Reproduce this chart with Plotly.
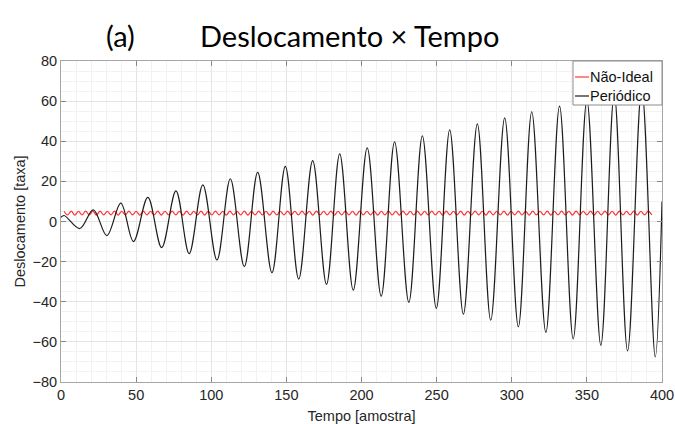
import numpy as np
import plotly.graph_objects as go

# Periodic response: extrema (sample index, displacement)
per_t = [0, 2, 12.5, 21.5, 30.5, 39.8, 48.2, 57.8, 67, 76.5, 85.3, 94.4, 103.8,
         112.7, 122, 130.9, 140.4, 149.3, 158.2, 167.5, 176.7, 185.5, 194.5,
         203.8, 213.1, 222, 231.5, 240.5, 249.8, 258.7, 267.8, 277.1, 286,
         295.3, 304.4, 313.3, 322.7, 331.8, 340.9, 350, 359.3, 368.2, 377.1,
         386.5, 395.5, 400]
per_y = [2, 3, -3.5, 5.8, -7, 9.2, -10, 12, -13, 15.3, -16, 18.3, -19.2,
         21.3, -22.5, 24.5, -25.5, 27.5, -28.7, 30.3, -31.3, 33.7, -34.2,
         36.7, -37.2, 39.7, -40.3, 42.7, -43.3, 45.7, -46.2, 48.7, -49.2,
         51.7, -52.5, 54.7, -55.3, 57.5, -58.5, 60.5, -61.7, 63.5, -64.5,
         66.5, -67.5, 10]

# Non-ideal response: small ripple extrema, one every 2.4 samples from t = 2
ni_start, ni_step = 2.0, 2.4
ni_y = [
    5.1, 3.3, 5.2, 3.2, 5.1, 3.3, 5.2, 3.3, 5.1, 3.2, 5.2, 3.3, 5.1, 3.3,
    5.2, 3.2, 5.1, 3.3, 5.2, 3.3, 5.1, 3.2, 5.2, 3.3, 5.1, 3.3, 5.2, 3.2,
    5.1, 3.3, 5.2, 3.3, 5.1, 3.2, 5.2, 3.3, 5.1, 3.3, 5.2, 3.2, 5.1, 3.3,
    5.2, 3.3, 5.1, 3.2, 5.2, 3.3, 5.1, 3.3, 5.2, 3.2, 5.1, 3.3, 5.2, 3.3,
    5.1, 3.2, 5.2, 3.3, 5.1, 3.3, 5.2, 3.2, 5.1, 3.3, 5.2, 3.3, 5.1, 3.2,
    5.2, 3.3, 5.1, 3.3, 5.2, 3.2, 5.1, 3.3, 5.2, 3.3, 5.1, 3.2, 5.2, 3.3,
    5.1, 3.3, 5.2, 3.2, 5.1, 3.3, 5.2, 3.3, 5.1, 3.2, 5.2, 3.3, 5.1, 3.3,
    5.2, 3.2, 5.1, 3.3, 5.2, 3.3, 5.1, 3.2, 5.2, 3.3, 5.1, 3.3, 5.2, 3.2,
    5.1, 3.3, 5.2, 3.3, 5.1, 3.2, 5.2, 3.3, 5.1, 3.3, 5.2, 3.2, 5.1, 3.3,
    5.2, 3.3, 5.1, 3.2, 5.2, 3.3, 5.1, 3.3, 5.2, 3.2, 5.1, 3.3, 5.2, 3.3,
    5.1, 3.2, 5.2, 3.3, 5.1, 3.3, 5.2, 3.2, 5.1, 3.3, 5.2, 3.3, 5.1, 3.2,
    5.2, 3.3, 5.1, 3.3, 5.2, 3.2, 5.1, 3.3, 5.2, 3.3,
]
ni_t = ni_start + ni_step * np.arange(len(ni_y))

series_names = ["Não-Ideal", "Periódico"]
series_colors = ["#ff3535", "#1c1c1c"]

x_ticks = [0, 50, 100, 150, 200, 250, 300, 350, 400]
y_ticks = [-80, -60, -40, -20, 0, 20, 40, 60, 80]

W, H = 675, 424
ML, MR, MT, MB = 61, 13, 61, 42
PW, PH = W - ML - MR, H - MT - MB

def px(xp):
    return (xp - ML) / PW

def py(yp):
    return (H - MB - yp) / PH

SANS = "Liberation Sans"
AX_FONT = dict(family=SANS, size=14.5, color="#262626")
TITLE_FONT = dict(family="Lato", size=29, color="black")

fig = go.Figure()
fig.add_trace(go.Scatter(
    x=ni_t, y=ni_y, mode="lines", name=series_names[0], showlegend=False,
    line=dict(color=series_colors[0], width=1.2, shape="spline", smoothing=1.0),
))
fig.add_trace(go.Scatter(
    x=per_t, y=per_y, mode="lines", name=series_names[1], showlegend=False,
    line=dict(color=series_colors[1], width=1.2, shape="spline", smoothing=1.0),
))

# Boxed legend in the top-right corner of the axes
shapes = [
    dict(type="rect", xref="paper", yref="paper", layer="above",
         x0=px(573), x1=px(662), y0=py(105), y1=py(61),
         fillcolor="white", line=dict(color="#8c8c8c", width=1)),
]
annotations = []
for i, (name, col) in enumerate(zip(series_names, series_colors)):
    yrow = 77 + 19 * i
    shapes.append(dict(type="line", xref="paper", yref="paper", layer="above",
                       x0=px(575), x1=px(589), y0=py(yrow), y1=py(yrow),
                       line=dict(color=col, width=1.2)))
    annotations.append(dict(text=name, x=px(588), y=py(yrow), xref="paper", yref="paper",
                            xanchor="left", yanchor="middle", showarrow=False,
                            font=dict(family=SANS, size=14.5, color="#111")))

# Title line above the axes
annotations.append(dict(text="(a)", x=px(120), y=py(35), xref="paper", yref="paper",
                        xanchor="center", yanchor="middle", showarrow=False, font=TITLE_FONT))
annotations.append(dict(text="Deslocamento × Tempo", x=px(198), y=py(35), xref="paper", yref="paper",
                        xanchor="left", yanchor="middle", showarrow=False, font=TITLE_FONT))

fig.update_layout(
    width=W, height=H,
    margin=dict(l=ML, r=MR, t=MT, b=MB, autoexpand=False),
    paper_bgcolor="white", plot_bgcolor="white",
    font=AX_FONT,
    showlegend=False,
    shapes=shapes,
    annotations=annotations,
)

fig.update_xaxes(
    automargin=False,
    range=[0, 400], tickvals=x_ticks, ticks="inside", ticklen=5,
    tickcolor="#888", showline=True, linecolor="#a6a6a6", linewidth=1, mirror="ticks",
    showgrid=True, gridcolor="#e4e4e4", gridwidth=1, zeroline=False,
    minor=dict(dtick=10, showgrid=True, gridcolor="#f2f2f2", gridwidth=1),
    tickfont=AX_FONT,
    title=dict(text="Tempo [amostra]", font=AX_FONT),
)
fig.update_yaxes(
    automargin=False,
    range=[-80, 80], tickvals=y_ticks, ticks="inside", ticklen=5,
    tickcolor="#888", showline=True, linecolor="#a6a6a6", linewidth=1, mirror="ticks",
    showgrid=True, gridcolor="#e4e4e4", gridwidth=1, zeroline=False,
    minor=dict(dtick=5, showgrid=True, gridcolor="#f2f2f2", gridwidth=1),
    tickfont=AX_FONT,
    title=dict(text="Deslocamento [taxa]", font=AX_FONT, standoff=3),
)

fig.write_html("out.html")
